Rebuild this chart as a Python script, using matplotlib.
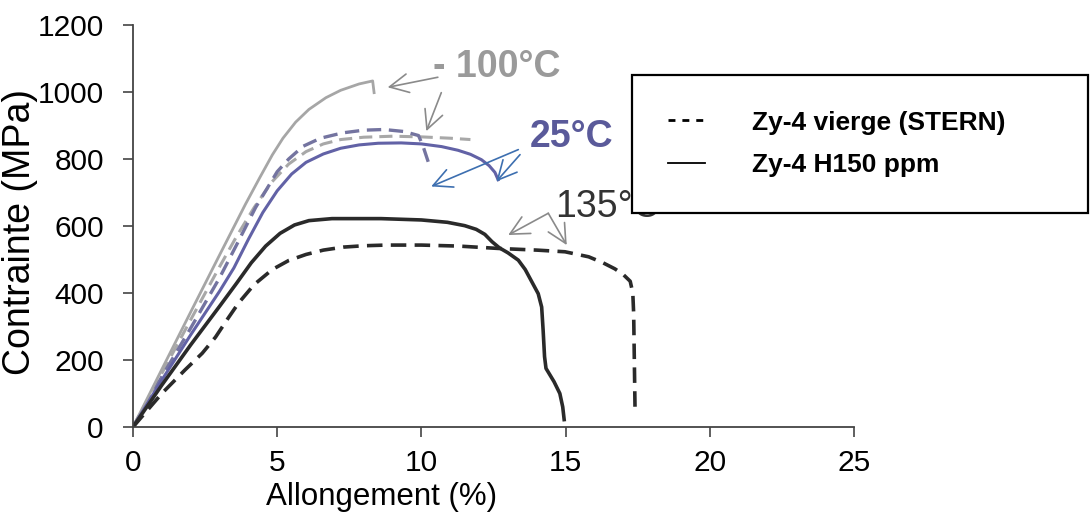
import matplotlib
matplotlib.use("Agg")
import matplotlib.pyplot as plt
from matplotlib.lines import Line2D

plt.rcParams['font.family'] = ['Liberation Sans', 'DejaVu Sans']

# ---- data (Allongement %, Contrainte MPa) ----
m100_h150_x = [0, 1, 2, 3, 3.9, 4.4, 4.83, 5.2, 5.64, 6.1, 6.69, 7.2, 7.84, 8.31, 8.36]
m100_h150_y = [0, 172, 343, 513, 665, 745, 812, 862, 910, 948, 983, 1005, 1024, 1033, 998]

m100_stern_x = [0, 1, 2, 3, 3.6, 4.2, 4.8, 5.4, 6, 6.6, 7.2, 8, 9, 10, 11, 11.7]
m100_stern_y = [0, 160, 320, 478, 570, 655, 730, 785, 822, 845, 858, 865, 868, 866, 862, 858]

t25_h150_x = [0, 1, 2, 3, 3.5, 4, 4.5, 5, 5.5, 6, 6.6, 7.2, 7.84, 8.5, 9.3, 10,
              10.7, 11.27, 11.7, 12.08, 12.35, 12.55, 12.66]
t25_h150_y = [0, 140, 275, 405, 475, 560, 640, 705, 755, 790, 815, 832, 842, 847, 848, 845,
              837, 826, 814, 798, 780, 760, 738]

t25_stern_x = [0, 1, 2, 3, 3.6, 4.25, 5.0, 5.4, 5.9, 6.5, 7.27, 8, 8.7, 9.4, 9.9, 10.05, 10.3]
t25_stern_y = [0, 150, 295, 445, 545, 655, 762, 800, 838, 862, 878, 886, 888, 882, 870, 840, 775]

t135_h150_x = [0, 1, 2, 3, 3.6, 4.1, 4.6, 5.1, 5.6, 6.1, 6.9, 8.6, 10, 10.9, 11.5, 11.9,
               12.2, 12.45, 12.7, 13.0, 13.36, 13.6, 13.85, 14.05, 14.17, 14.22, 14.27,
               14.32, 14.6, 14.8, 14.9, 14.95]
t135_h150_y = [0, 125, 245, 360, 430, 490, 540, 578, 603, 616, 622, 622, 618, 611, 601, 590,
               575, 553, 535, 520, 498, 470, 430, 398, 358, 290, 210,
               175, 135, 100, 60, 22]

t135_stern_x = [0, 1, 1.8, 2.4, 2.86, 3.3, 3.66, 4.2, 4.83, 5.4, 6, 6.6, 7.3, 8, 8.77, 10,
                11.3, 12.66, 14, 14.98, 15.8, 16.3, 16.71, 17.0, 17.24, 17.33, 17.36, 17.41]
t135_stern_y = [0, 100, 170, 220, 268, 325, 370, 425, 470, 497, 515, 528, 537, 541, 543, 543,
                540, 533, 528, 523, 508, 490, 472, 455, 435, 400, 338, 38]

x_ticks = [0, 5, 10, 15, 20, 25]
y_ticks = [0, 200, 400, 600, 800, 1000, 1200]

legend_labels = ["Zy-4 vierge (STERN)", "Zy-4 H150 ppm"]

# annotation labels (text, anchor) and arrows (tail, head)
labels = [("- 100°C", (10.4, 1074), "#9a9a9a", "bold"),
          ("25°C", (13.75, 867), "#5a5a9a", "bold"),
          ("135°C", (14.62, 658), "#333333", "normal")]
arrows = [((10.57, 1044), (8.83, 1014), "#8a8a8a"),
          ((10.69, 998), (10.17, 883), "#8a8a8a"),
          ((13.36, 828), (10.34, 718), "#3d6fb0"),
          ((13.42, 813), (12.6, 733), "#3d6fb0"),
          ((14.4, 638), (13.01, 573), "#8a8a8a"),
          ((14.4, 638), (15.04, 543), "#8a8a8a")]

fig = plt.figure(figsize=(10.9, 5.25), dpi=100)
ax = fig.add_axes([0.122, 0.1867, 0.6615, 0.7657])

dash = (0, (4.3, 2.3))
ax.plot(m100_stern_x, m100_stern_y, color="#a8a8a8", lw=2.2, ls=dash)
ax.plot(t25_stern_x, t25_stern_y, color="#7474a0", lw=2.4, ls=dash)
ax.plot(m100_h150_x, m100_h150_y, color="#a6a6a6", lw=2.0)
ax.plot(t25_h150_x, t25_h150_y, color="#6262a6", lw=2.2)
ax.plot(t135_stern_x, t135_stern_y, color="#2a2a2a", lw=2.6, ls=dash)
ax.plot(t135_h150_x, t135_h150_y, color="#2a2a2a", lw=2.6)

for txt, pos, col, wt in labels:
    ax.text(pos[0], pos[1], txt, color=col, fontsize=27, fontweight=wt,
            ha="left", va="center", zorder=3)

for tail, head, col in arrows:
    ax.annotate("", xy=head, xytext=tail,
                arrowprops=dict(arrowstyle="->,head_length=0.9,head_width=0.45",
                                color=col, lw=1.2, shrinkA=0, shrinkB=0,
                                mutation_scale=15))

ax.set_xlim(0, 25)
ax.set_ylim(0, 1200)
ax.set_xticks(x_ticks)
ax.set_yticks(y_ticks)
ax.tick_params(axis="both", direction="out", length=7, width=1.2,
               color="#444444", labelsize=21.5)
ax.tick_params(axis="y", pad=14)
ax.tick_params(axis="x", pad=9)
for s in ["top", "right"]:
    ax.spines[s].set_visible(False)
for s in ["left", "bottom"]:
    ax.spines[s].set_color("#444444")
    ax.spines[s].set_linewidth(1.3)

ax.set_xlabel("Allongement (%)", fontsize=22.5)
ax.set_ylabel("Contrainte (MPa)", fontsize=27)
ax.xaxis.set_label_coords(0.345, -0.174)
ax.xaxis.label.set_verticalalignment("center")
ax.yaxis.set_label_coords(-0.157, 0.485)
ax.yaxis.label.set_verticalalignment("center")

handles = [Line2D([], [], color="black", lw=2.0, ls=(0, (2.5, 2.5))),
           Line2D([], [], color="black", lw=1.3)]
leg = ax.legend(handles, legend_labels, loc="upper left",
                bbox_to_anchor=(0.5798, 0.4, 0.4183, 0.457),
                bbox_transform=fig.transFigure, mode="expand",
                borderaxespad=0, borderpad=1.35, labelspacing=0.7,
                handlelength=1.4, handletextpad=1.8, fancybox=False,
                framealpha=1, edgecolor="black",
                prop={"weight": "bold", "size": 19})
leg.get_frame().set_linewidth(1.6)
leg.set_zorder(10)

fig.savefig("out.png", dpi=100)
